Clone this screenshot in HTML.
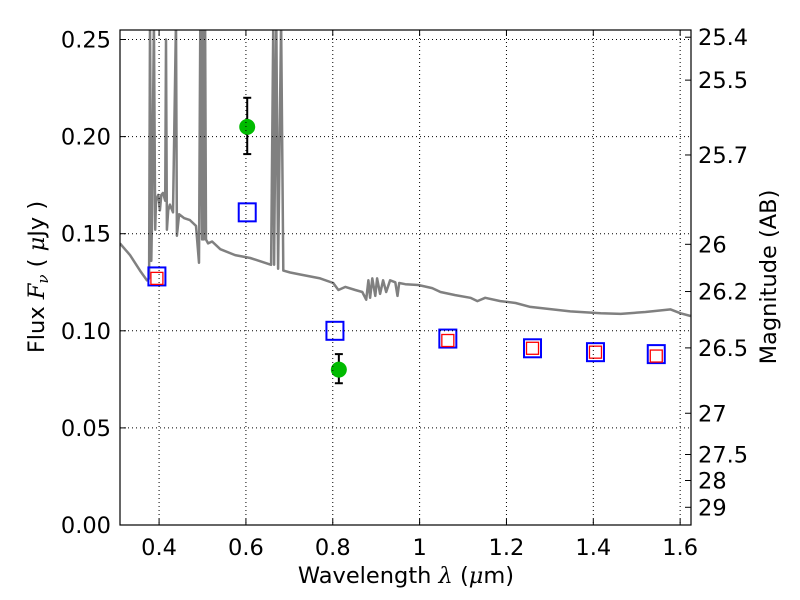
<!DOCTYPE html>
<html><head><meta charset="utf-8"><style>
body{margin:0;background:#fff;}
svg{display:block;font-family:"DejaVu Sans","Liberation Sans",sans-serif;}
</style></head><body>
<svg id="chart" width="800" height="600" xmlns="http://www.w3.org/2000/svg">
<rect width="800" height="600" fill="#fff"/>
<g id="marks"></g>
<g id="grid"></g>
<g id="axes"></g>
<text x="406" y="583" font-size="22.5" text-anchor="middle">Wavelength  <tspan font-style="italic" font-family="DejaVu Serif,serif">λ</tspan> (<tspan font-style="italic" font-family="DejaVu Serif,serif">μ</tspan>m)</text>
<text transform="translate(44,277) rotate(-90)" font-size="22.5" text-anchor="middle">Flux  <tspan font-style="italic" font-family="DejaVu Serif,serif">F<tspan font-size="15" dy="4">ν</tspan></tspan><tspan dy="-4">  ( </tspan><tspan font-style="italic" font-family="DejaVu Serif,serif">μ</tspan>Jy )</text>
<text transform="translate(776,277) rotate(-90)" font-size="22.5" text-anchor="middle">Magnitude (AB)</text>
</svg>
<script>
const specWave=[0.310,0.333,0.356,0.372,0.377,0.379,0.382,0.384,0.388,0.391,0.393,0.398,0.402,0.405,0.409,0.414,0.416,0.418,0.421,0.425,0.432,0.439,0.441,0.446,0.458,0.471,0.485,0.492,0.495,0.499,0.501,0.503,0.506,0.508,0.513,0.522,0.541,0.575,0.610,0.644,0.658,0.663,0.665,0.670,0.674,0.681,0.686,0.702,0.725,0.771,0.801,0.813,0.829,0.852,0.868,0.877,0.882,0.886,0.891,0.898,0.902,0.909,0.916,0.923,0.932,0.944,0.949,0.953,0.967,0.997,1.029,1.048,1.082,1.117,1.133,1.151,1.186,1.221,1.255,1.301,1.347,1.417,1.463,1.520,1.578,1.601,1.624];
const specFlux=[0.145,0.139,0.131,0.126,0.127,0.26,0.136,0.160,0.26,0.152,0.167,0.170,0.162,0.170,0.171,0.167,0.250,0.152,0.162,0.165,0.161,0.26,0.149,0.160,0.158,0.157,0.154,0.135,0.26,0.147,0.26,0.147,0.26,0.147,0.145,0.146,0.142,0.139,0.1375,0.135,0.134,0.26,0.134,0.26,0.132,0.26,0.131,0.130,0.129,0.127,0.1246,0.121,0.1226,0.121,0.120,0.116,0.126,0.117,0.127,0.118,0.127,0.119,0.126,0.120,0.126,0.125,0.118,0.1246,0.124,0.1236,0.122,0.120,0.1184,0.117,0.1153,0.117,0.1153,0.1143,0.1123,0.1112,0.110,0.109,0.1087,0.1097,0.111,0.109,0.1076];
const photWave=[0.603,0.814];
const photFlux=[0.205,0.080];
const photErrLo=[0.191,0.073];
const photErrHi=[0.220,0.088];
const modelWave=[0.395,0.603,0.805,1.065,1.26,1.405,1.545];
const modelFlux=[0.128,0.161,0.100,0.096,0.091,0.089,0.088];
const synthWave=[0.395,1.065,1.26,1.405,1.545];
const synthFlux=[0.127,0.095,0.091,0.089,0.087];
const xTicks=[0.4,0.6,0.8,1.0,1.2,1.4,1.6];
const xTickLabels=["0.4","0.6","0.8","1","1.2","1.4","1.6"];
const yTicks=[0,0.05,0.10,0.15,0.20,0.25];
const yTickLabels=["0.00","0.05","0.10","0.15","0.20","0.25"];
const magTicks=[25.4,25.5,25.7,26,26.2,26.5,27,27.5,28,29];
const magTickLabels=["25.4","25.5","25.7","26","26.2","26.5","27","27.5","28","29"];

const L=120,R=691,T=30,B=525;
const xMin=0.310,xMax=1.625,yMin=0,yMax=0.2549;
const X=v=>L+(v-xMin)/(xMax-xMin)*(R-L);
const Y=v=>B-(v-yMin)/(yMax-yMin)*(B-T);
const NS="http://www.w3.org/2000/svg";
function mk(tag,attrs,parent){const e=document.createElementNS(NS,tag);for(const k in attrs)e.setAttribute(k,attrs[k]);parent.appendChild(e);return e;}
const grid=document.getElementById('grid'),marks=document.getElementById('marks'),axes=document.getElementById('axes');
const clip=mk('clipPath',{id:'pc'},document.getElementById('chart'));
mk('rect',{x:L,y:T,width:R-L,height:B-T},clip);

xTicks.forEach((v,i)=>{
  const g=mk('line',{x1:X(v),x2:X(v),y1:T,y2:B,stroke:'#000','stroke-width':1,'stroke-dasharray':'1,3'},grid);
  
  
  mk('line',{x1:X(v),x2:X(v),y1:B,y2:B-6,stroke:'#000'},axes);
  mk('line',{x1:X(v),x2:X(v),y1:T,y2:T+6,stroke:'#000'},axes);
  const t=mk('text',{x:X(v),y:B+30,'font-size':22.5,'text-anchor':'middle'},axes);
  t.textContent=xTickLabels[i];
  
  
});
yTicks.forEach((v,i)=>{
  const g=mk('line',{x1:L,x2:R,y1:Y(v),y2:Y(v),stroke:'#000','stroke-width':1,'stroke-dasharray':'1,3'},grid);
  
  
  mk('line',{x1:L,x2:L+6,y1:Y(v),y2:Y(v),stroke:'#000'},axes);
  const t=mk('text',{x:L-9,y:Y(v)+8,'font-size':22.5,'text-anchor':'end'},axes);
  t.textContent=yTickLabels[i];
  
  
});
magTicks.forEach((m,i)=>{
  const f=Math.pow(10,(23.9-m)/2.5);
  const y=Y(f);
  mk('line',{x1:R,x2:R-6,y1:y,y2:y,stroke:'#000'},axes);
  const t=mk('text',{x:R+7,y:y+8,'font-size':22.5,'text-anchor':'start'},axes);
  t.textContent=magTickLabels[i];
  
  
});
mk('rect',{x:L,y:T,width:R-L,height:B-T,fill:'none',stroke:'#000','stroke-width':1.2},axes);

const pts=specWave.map((w,i)=>X(w).toFixed(1)+','+Y(specFlux[i]).toFixed(1)).join(' ');
const sp=mk('polyline',{points:pts,fill:'none',stroke:'#808080','stroke-width':2.5,'stroke-linejoin':'round','clip-path':'url(#pc)'},marks);



modelWave.forEach((w,i)=>{
  const r=mk('rect',{x:X(w)-8.5,y:Y(modelFlux[i])-9,width:17,height:18,fill:'none',stroke:'#0000ff','stroke-width':2},marks);
  
  
});
synthWave.forEach((w,i)=>{
  const r=mk('rect',{x:X(w)-6,y:Y(synthFlux[i])-6,width:12,height:12,fill:'none',stroke:'#ff0000','stroke-width':1.3},marks);
  
  
});
photWave.forEach((w,i)=>{
  const x=X(w);
  const e=mk('g',{},marks);
  
  
  mk('line',{x1:x,x2:x,y1:Y(photErrLo[i]),y2:Y(photErrHi[i]),stroke:'#000','stroke-width':2},e);
  mk('line',{x1:x-4,x2:x+4,y1:Y(photErrLo[i]),y2:Y(photErrLo[i]),stroke:'#000','stroke-width':2},e);
  mk('line',{x1:x-4,x2:x+4,y1:Y(photErrHi[i]),y2:Y(photErrHi[i]),stroke:'#000','stroke-width':2},e);
  const c=mk('circle',{cx:x,cy:Y(photFlux[i]),r:8,fill:'#00bb00'},marks);
  
  
});
</script>
</body></html>
